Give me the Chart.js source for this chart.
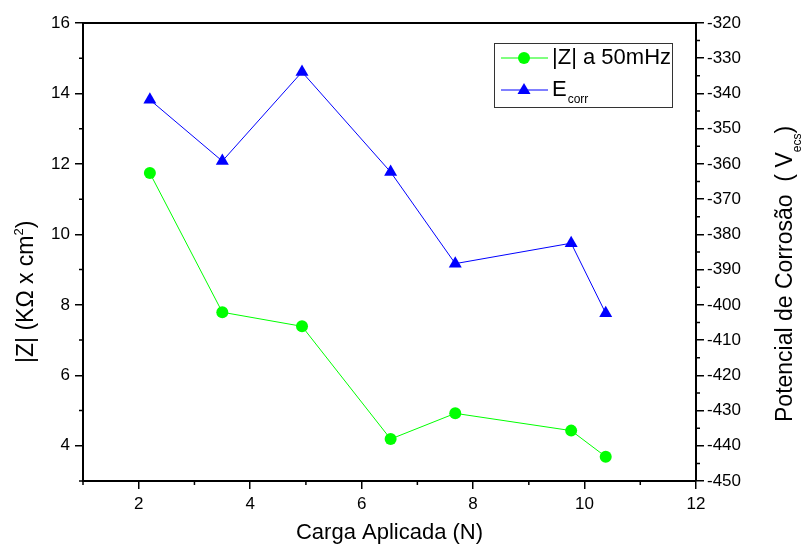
<!DOCTYPE html>
<html>
<head>
<meta charset="utf-8">
<script src="https://cdn.jsdelivr.net/npm/chart.js@4.4.1/dist/chart.umd.min.js"></script>
<style>
  html, body { margin: 0; padding: 0; background: #fff; }
</style>
</head>
<body>
<canvas id="myChart" width="801" height="546"></canvas>
<script>
// data
const cargaAplicada = [2.2, 3.5, 4.93, 6.52, 7.68, 9.76, 10.38];
const zModulo = [11.74, 7.79, 7.39, 4.19, 4.92, 4.43, 3.69];
const eCorr = [-341.8, -359.2, -333.9, -362.3, -388.3, -382.5, -402.4];

const xTicks = [2, 4, 6, 8, 10, 12];
const xMinor = [1, 3, 5, 7, 9, 11];
const zTicks = [4, 6, 8, 10, 12, 14, 16];
const zMinor = [3, 5, 7, 9, 11, 13, 15];
const eTicks = [-450, -440, -430, -420, -410, -400, -390, -380, -370, -360, -350, -340, -330, -320];
const eMinor = [-445, -435, -425, -415, -405, -395, -385, -375, -365, -355, -345, -335, -325];

const FONT = "'Liberation Sans', Arial, sans-serif";
const GREEN = "#00ff00";
const BLUE = "#0000ff";

// draws rotated title pieces: [text, size, baseline shift]
function rotatedTitle(ctx, x, y, parts) {
  ctx.save();
  ctx.translate(x, y);
  ctx.rotate(-Math.PI / 2);
  ctx.fillStyle = "#000";
  ctx.textBaseline = "alphabetic";
  ctx.textAlign = "left";
  let w = 0;
  parts.forEach(([txt, size, dy]) => {
    ctx.font = size + "px " + FONT;
    ctx.fillText(txt, w, dy);
    w += ctx.measureText(txt).width;
  });
  ctx.restore();
}

// frame, minor ticks, axis titles and legend
const extrasPlugin = {
  id: "extras",
  afterDraw(chart) {
    const { ctx, chartArea: a, scales } = chart;
    ctx.save();
    ctx.strokeStyle = "#000";
    ctx.lineWidth = 2;
    ctx.beginPath();
    ctx.moveTo(a.left - 1, a.top);
    ctx.lineTo(a.right + 1, a.top);
    ctx.stroke();

    ctx.lineWidth = 1.5;
    ctx.beginPath();
    xMinor.forEach((v) => {
      const px = scales.x.getPixelForValue(v);
      ctx.moveTo(px, a.bottom);
      ctx.lineTo(px, a.bottom + 4);
    });
    zMinor.forEach((v) => {
      const py = scales.y.getPixelForValue(v);
      ctx.moveTo(a.left, py);
      ctx.lineTo(a.left - 4, py);
    });
    eMinor.forEach((v) => {
      const py = scales.y2.getPixelForValue(v);
      ctx.moveTo(a.right, py);
      ctx.lineTo(a.right + 4, py);
    });
    ctx.stroke();
    ctx.restore();

    rotatedTitle(ctx, 33, 363, [["|Z| (KΩ x cm", 23, 0], ["2", 13, -10], [")", 23, 0]]);
    rotatedTitle(ctx, 792, 422, [["Potencial de Corrosão  ( V", 23, 0], ["ecs", 12, 9], [")", 23, 0]]);

    // legend
    ctx.save();
    ctx.fillStyle = "#fff";
    ctx.fillRect(494, 43, 178, 64);
    ctx.strokeStyle = "#333";
    ctx.lineWidth = 1;
    ctx.strokeRect(494.5, 43.5, 178, 64);

    ctx.strokeStyle = GREEN;
    ctx.beginPath();
    ctx.moveTo(501, 58);
    ctx.lineTo(548, 58);
    ctx.stroke();
    ctx.fillStyle = GREEN;
    ctx.beginPath();
    ctx.arc(524, 58, 6, 0, Math.PI * 2);
    ctx.fill();

    ctx.strokeStyle = BLUE;
    ctx.beginPath();
    ctx.moveTo(501, 90);
    ctx.lineTo(548, 90);
    ctx.stroke();
    ctx.fillStyle = BLUE;
    ctx.beginPath();
    ctx.moveTo(524, 83);
    ctx.lineTo(530.5, 94);
    ctx.lineTo(517.5, 94);
    ctx.closePath();
    ctx.fill();

    ctx.fillStyle = "#000";
    ctx.textBaseline = "middle";
    ctx.textAlign = "left";
    ctx.font = "22px " + FONT;
    ctx.fillText("|Z| a 50mHz", 552, 58);
    ctx.fillText("E", 552, 90);
    const ew = ctx.measureText("E").width;
    ctx.font = "12px " + FONT;
    ctx.fillText("corr", 552 + ew + 1, 100);
    ctx.restore();
  },
};

const axisLine = { display: true, color: "#000", width: 2 };
const tickGrid = {
  drawOnChartArea: false,
  drawTicks: true,
  tickLength: 8,
  color: "#000",
  lineWidth: 1.5,
};

new Chart(document.getElementById("myChart").getContext("2d"), {
  type: "line",
  data: {
    datasets: [
      {
        label: "|Z| a 50mHz",
        data: cargaAplicada.map((x, i) => ({ x: x, y: zModulo[i] })),
        yAxisID: "y",
        borderColor: GREEN,
        backgroundColor: GREEN,
        borderWidth: 1,
        pointStyle: "circle",
        pointRadius: 6,
        pointBorderWidth: 0,
        tension: 0,
      },
      {
        label: "Ecorr",
        data: cargaAplicada.map((x, i) => ({ x: x, y: eCorr[i] })),
        yAxisID: "y2",
        borderColor: BLUE,
        backgroundColor: BLUE,
        borderWidth: 1,
        pointStyle: "triangle",
        pointRadius: 7.5,
        pointBorderWidth: 0,
        tension: 0,
      },
    ],
  },
  options: {
    responsive: false,
    animation: false,
    layout: { padding: { top: 23, left: 0, right: 0, bottom: 0 } },
    plugins: { legend: { display: false }, tooltip: { enabled: false } },
    scales: {
      x: {
        type: "linear",
        min: 1,
        max: 12,
        afterBuildTicks: (s) => { s.ticks = xTicks.map((v) => ({ value: v })); },
        afterFit: (s) => { s.height = 65; },
        grid: tickGrid,
        border: axisLine,
        ticks: { color: "#000", font: { family: FONT, size: 17 }, padding: 5, maxRotation: 0 },
        title: {
          display: true,
          text: "Carga Aplicada (N)",
          color: "#000",
          font: { family: FONT, size: 22 },
          padding: { top: 0, bottom: 0 },
        },
      },
      y: {
        position: "left",
        min: 3,
        max: 16,
        afterBuildTicks: (s) => { s.ticks = zTicks.map((v) => ({ value: v })); },
        afterFit: (s) => { s.width = 83; },
        grid: tickGrid,
        border: axisLine,
        ticks: { color: "#000", font: { family: FONT, size: 17 }, padding: 5 },
      },
      y2: {
        position: "right",
        min: -450,
        max: -320,
        afterBuildTicks: (s) => { s.ticks = eTicks.map((v) => ({ value: v })); },
        afterFit: (s) => { s.width = 105; },
        grid: tickGrid,
        border: axisLine,
        ticks: { color: "#000", font: { family: FONT, size: 17 }, padding: 3 },
      },
    },
  },
  plugins: [extrasPlugin],
});
</script>
</body>
</html>
